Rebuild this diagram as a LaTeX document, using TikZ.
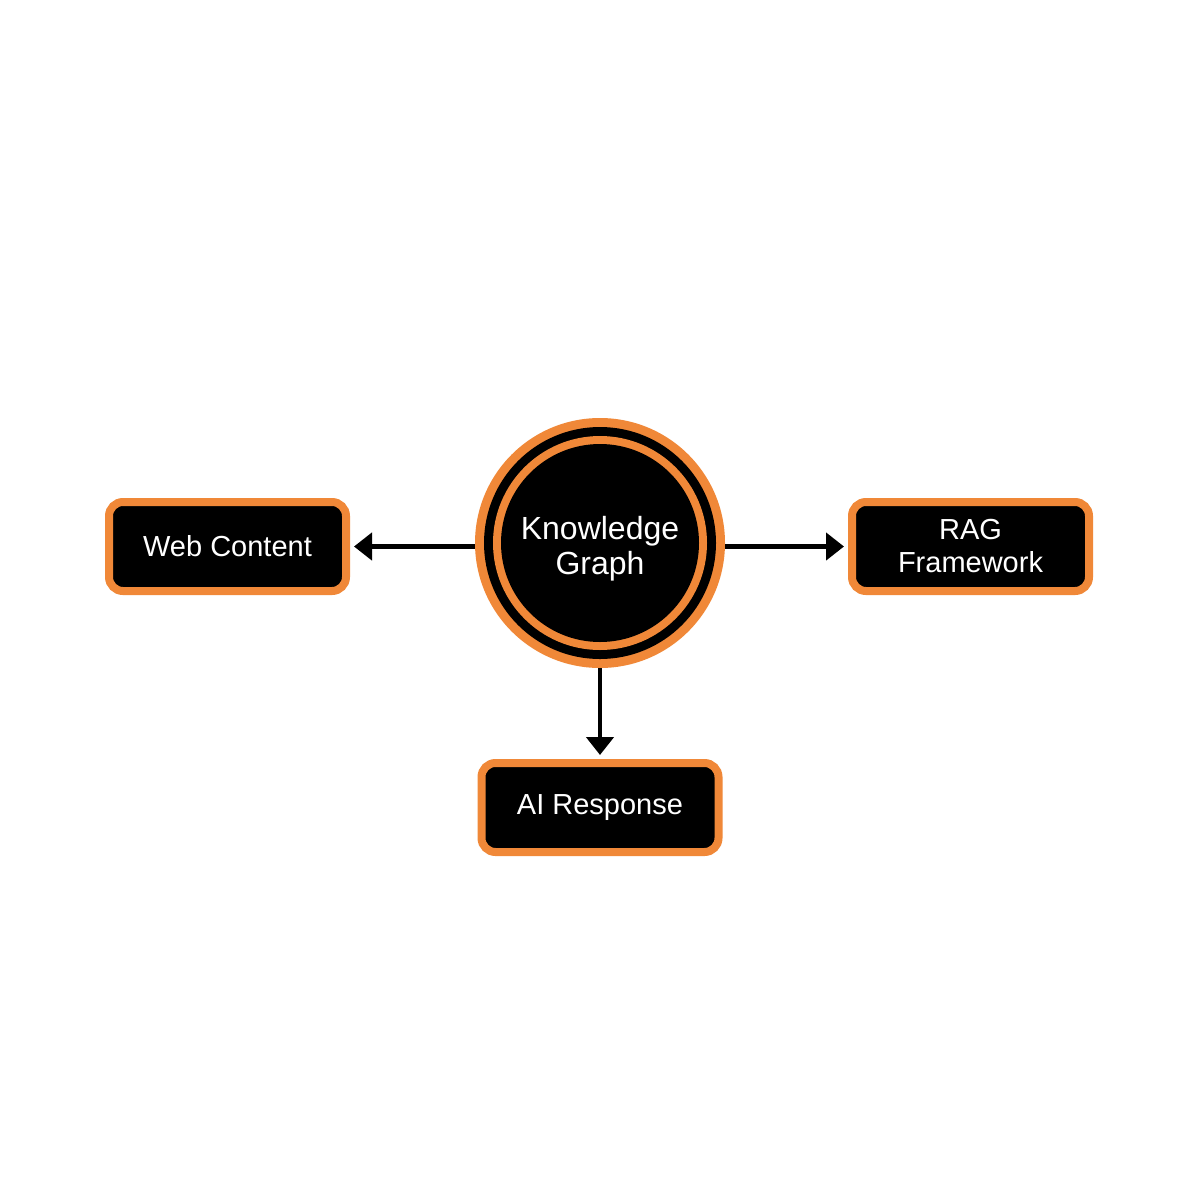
\documentclass[tikz,border=0pt]{standalone}
\usepackage{fontspec}
\setmainfont{Liberation Sans}
\usetikzlibrary{arrows.meta}
\definecolor{kgorange}{RGB}{240,136,56}
\begin{document}
\begin{tikzpicture}[x=1pt,y=-1pt,
  boxnode/.style={draw=kgorange, line width=8pt, fill=black, rounded corners=14pt,
    minimum width=237pt, minimum height=89pt, inner sep=0pt, text=white,
    font=\fontsize{29}{33}\selectfont, align=center},
  conn/.style={line width=4.5pt, -{Triangle[length=18pt,width=27pt]}, shorten >=4pt}]
\useasboundingbox[fill=white] (0,0) rectangle (1200,1200);
\node[circle, fill=kgorange, minimum size=250pt, inner sep=0pt] (kg) at (600,543) {};
\fill[black] (kg.center) circle[radius=116pt];
\fill[kgorange] (kg.center) circle[radius=107pt];
\fill[black] (kg.center) circle[radius=99pt];
\node[text=white, align=center, inner sep=0pt,
  font=\fontsize{32}{35}\selectfont] (kgin) at (600,549) {Knowledge\\Graph};
\node[boxnode] (web) at (227.5,546.5) {Web Content};
\node[boxnode] (rag) at (970.5,546.5) {\raisebox{0pt}{RAG}\\Framework};
\node[boxnode] (ai) at (600,807.5) {AI Response};
\draw[conn] (web.east -| kg.west) -- (web.east);
\draw[conn] (rag.west -| kg.east) -- (rag.west);
\draw[conn] (kg.south) -- (ai.north);
\end{tikzpicture}
\end{document}
